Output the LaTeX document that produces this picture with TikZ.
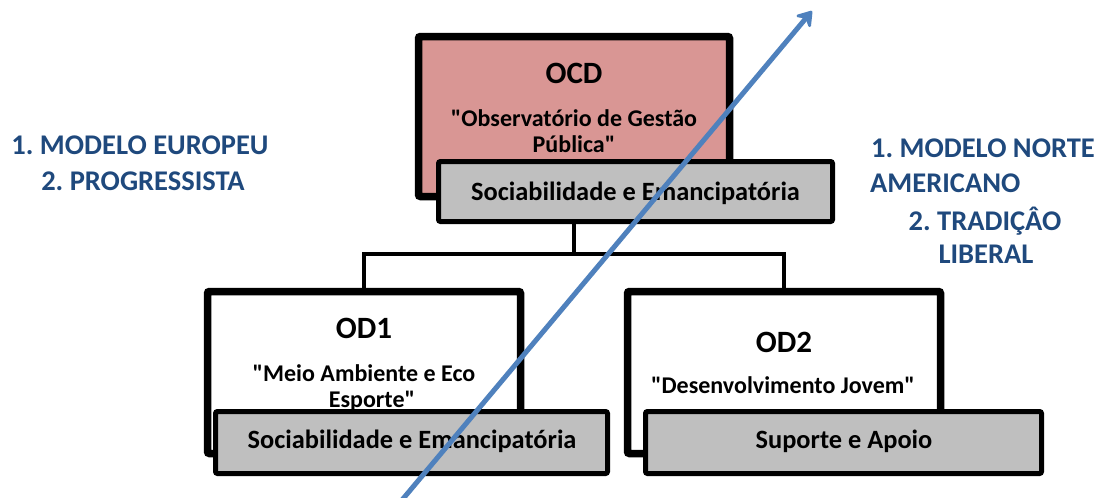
\documentclass[tikz,border=0pt]{standalone}
\usepackage{fontspec}
\setmainfont{Carlito}[Ligatures=TeXOff]
\frenchspacing
\usetikzlibrary{arrows.meta,shadows,backgrounds}
\definecolor{ocdred}{RGB}{217,150,148}
\definecolor{labelgray}{RGB}{191,191,191}
\definecolor{txtblue}{RGB}{31,73,125}
\definecolor{arrowblue}{RGB}{79,129,189}
\tikzset{
  mainbox/.style={draw=black, line width=7.5pt, rounded corners=2pt, inner sep=0pt,
    drop shadow={shadow xshift=2pt, shadow yshift=-2pt, opacity=0.2}},
  graybox/.style={draw=black, fill=labelgray, line width=5pt, rounded corners=2pt, inner sep=0pt,
    drop shadow={shadow xshift=2pt, shadow yshift=-2pt, opacity=0.2}},
  conn/.style={draw=black, line width=4pt},
  titletxt/.style={font=\fontsize{31}{33}\selectfont\bfseries, anchor=base, inner sep=0pt},
  subtxt/.style={font=\fontsize{24}{26}\selectfont\bfseries, anchor=base, inner sep=0pt},
  labeltxt/.style={font=\fontsize{26.4}{28}\selectfont\bfseries, anchor=base, inner sep=0pt},
  sidetxt/.style={font=\fontsize{28.5}{30}\selectfont\bfseries, text=txtblue, anchor=base, inner sep=0pt},
  bigarrow/.style={draw=arrowblue, line width=5pt,
    -{Stealth[round, length=18pt, width=24pt, inset=7pt]}},
}
\begin{document}
\begin{tikzpicture}[x=1pt, y=-1pt]
\useasboundingbox (0,0) rectangle (1104,498);
% boxes
\node[mainbox, fill=ocdred, minimum width=311pt, minimum height=160pt] (ocd) at (574,116.5) {};
\node[mainbox, fill=white, minimum width=313pt, minimum height=162pt] (od1) at (364,372.5) {};
\node[mainbox, fill=white, minimum width=313pt, minimum height=162pt] (od2) at (784,372.5) {};
% connectors
\coordinate (j) at (574,254);
\begin{pgfonlayer}{background}
\draw[conn] (ocd.south) -- (j);
\draw[conn] (j) -| (od1.north);
\draw[conn] (j) -| (od2.north);
\end{pgfonlayer}
% gray labels
\node[graybox, minimum width=394pt, minimum height=60pt] (ocdlab) at (635.5,191.5) {};
\node[graybox, minimum width=392pt, minimum height=62pt] (od1lab) at (411.5,442.5) {};
\node[graybox, minimum width=396pt, minimum height=62pt] (od2lab) at (843.5,442.5) {};
% texts in boxes
\node[titletxt] (ocdt) at (574,83) {OCD};
\node[subtxt] (ocds1) at (574,126) {"Observatório de Gestão};
\node[subtxt] (ocds2) at (574,152) {Pública"};
\node[labeltxt] (ocdl) at (635.5,200) {Sociabilidade e Emancipatória};
\node[titletxt] (od1t) at (364,338) {OD1};
\node[subtxt] (od1s1) at (364,381) {"Meio Ambiente e Eco};
\node[subtxt] (od1s2) at (372,407) {Esporte"};
\node[labeltxt] (od1l) at (412,448) {Sociabilidade e Emancipatória};
\node[titletxt] (od2t) at (784,352) {OD2};
\node[subtxt] (od2s) at (783,393) {"Desenvolvimento Jovem"};
\node[labeltxt] (od2l) at (844,448) {Suporte e Apoio};
% side texts
\node[sidetxt] (eu1) at (140,154) {1. MODELO EUROPEU};
\node[sidetxt] (eu2) at (143,190) {2. PROGRESSISTA};
\node[sidetxt] (na1) at (983,157) {1. MODELO NORTE};
\node[sidetxt, anchor=base west] (na2) at (870,192) {AMERICANO};
\node[sidetxt] (na3) at (985,230) {2. TRADIÇÂO};
\node[sidetxt] (na4) at (986,263) {LIBERAL};
% arrow
\coordinate (a0) at (402,500);
\coordinate (a1) at (812,11);
\draw[bigarrow] (a0) -- (a1);
\end{tikzpicture}
\end{document}
